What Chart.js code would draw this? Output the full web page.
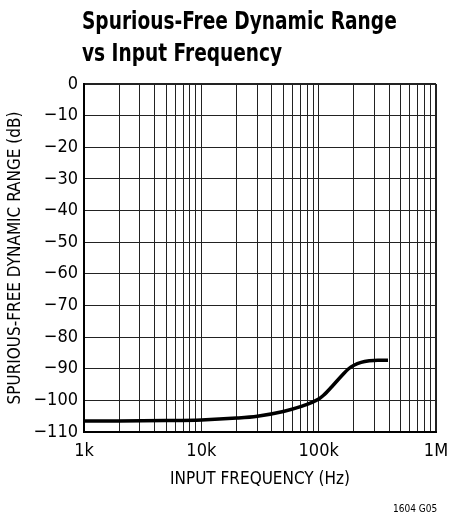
<!DOCTYPE html>
<html>
<head>
<meta charset="utf-8">
<script src="https://cdn.jsdelivr.net/npm/chart.js@4"></script>
<style>
  body { margin: 0; background: #fff; }
  #wrap { position: relative; width: 463px; height: 516px; }
  #title {
    position: absolute; left: 82px; top: 5px;
    font: bold 24px "DejaVu Sans Condensed", "Liberation Sans", sans-serif;
    line-height: 32px; color: #000;
    transform: scaleX(0.86); transform-origin: left top; white-space: nowrap;
  }
  #code {
    position: absolute; left: 393px; top: 503px;
    font: 10px "DejaVu Sans Condensed", sans-serif; color: #000;
  }
</style>
</head>
<body>
<div id="wrap">
  <canvas id="sfdrChart" width="463" height="516"></canvas>
  <div id="title">Spurious-Free Dynamic Range<br>vs Input Frequency</div>
  <div id="code">1604 G05</div>
</div>
<script>
// datos
const freqHz = [1e3, 2e3, 5e3, 1e4, 2e4, 3e4, 5e4, 7e4, 1e5, 1.1e5, 1.3e5, 1.6e5, 1.8e5, 2.0e5, 2.3e5, 2.7e5, 3.2e5, 3.9e5];
const sfdrDb = [-106.5, -106.5, -106.4, -106.2, -105.6, -105, -103.5, -102, -99.6, -98.4, -95.6, -91.9, -90, -88.9, -88, -87.5, -87.3, -87.3];
const gridFreqs = [];
[1e3, 1e4, 1e5].forEach(d => { for (let k = 1; k < 10; k++) gridFreqs.push(d * k); });
gridFreqs.push(1e6);
const freqLabels = { 1000: '1k', 10000: '10k', 100000: '100k', 1000000: '1M' };

const fontName = '"DejaVu Sans Condensed", sans-serif';

const ctx = document.getElementById('sfdrChart').getContext('2d');
const chart = new Chart(ctx, {
    type: 'line',
    data: {
        datasets: [{
            data: freqHz.map((f, i) => ({ x: f, y: sfdrDb[i] })),
            borderColor: '#000',
            borderWidth: 3.5,
            pointRadius: 0,
            cubicInterpolationMode: 'monotone',
            fill: false
        }]
    },
    options: {
        responsive: false,
        animation: false,
        layout: { padding: { top: 84, right: 27, left: 0, bottom: 26 } },
        plugins: { legend: { display: false }, tooltip: { enabled: false } },
        scales: {
            x: {
                type: 'logarithmic',
                min: 1e3,
                max: 1e6,
                afterBuildTicks: s => { s.ticks = gridFreqs.map(v => ({ value: v })); },
                afterFit: s => { s.height = 58; },
                ticks: {
                    autoSkip: false, maxRotation: 0, padding: 9, color: '#000',
                    font: { family: fontName, size: 18 },
                    callback: v => freqLabels[v] || ''
                },
                grid: {
                    drawTicks: false,
                    color: '#222',
                    lineWidth: c => (c.tick && c.tick.value === 1e6) ? 2 : 1
                },
                border: { color: '#000', width: 2 },
                title: {
                    display: true, text: 'INPUT FREQUENCY (Hz)', color: '#000',
                    font: { family: fontName, size: 17 }, padding: 0
                }
            },
            y: {
                min: -110,
                max: 0,
                afterFit: s => { s.width = 84; },
                ticks: {
                    stepSize: 10, padding: 6, color: '#000',
                    font: { family: fontName, size: 18 },
                    callback: v => v < 0 ? '\u2212' + Math.abs(v) : String(v)
                },
                grid: {
                    drawTicks: false,
                    color: '#222',
                    lineWidth: c => (c.tick && c.tick.value === 0) ? 2 : 1
                },
                border: { color: '#000', width: 2 },
                title: {
                    display: true, text: 'SPURIOUS-FREE DYNAMIC RANGE (dB)', color: '#000',
                    font: { family: fontName, size: 17 }, padding: 5
                }
            }
        }
    }
});
</script>
</body>
</html>
